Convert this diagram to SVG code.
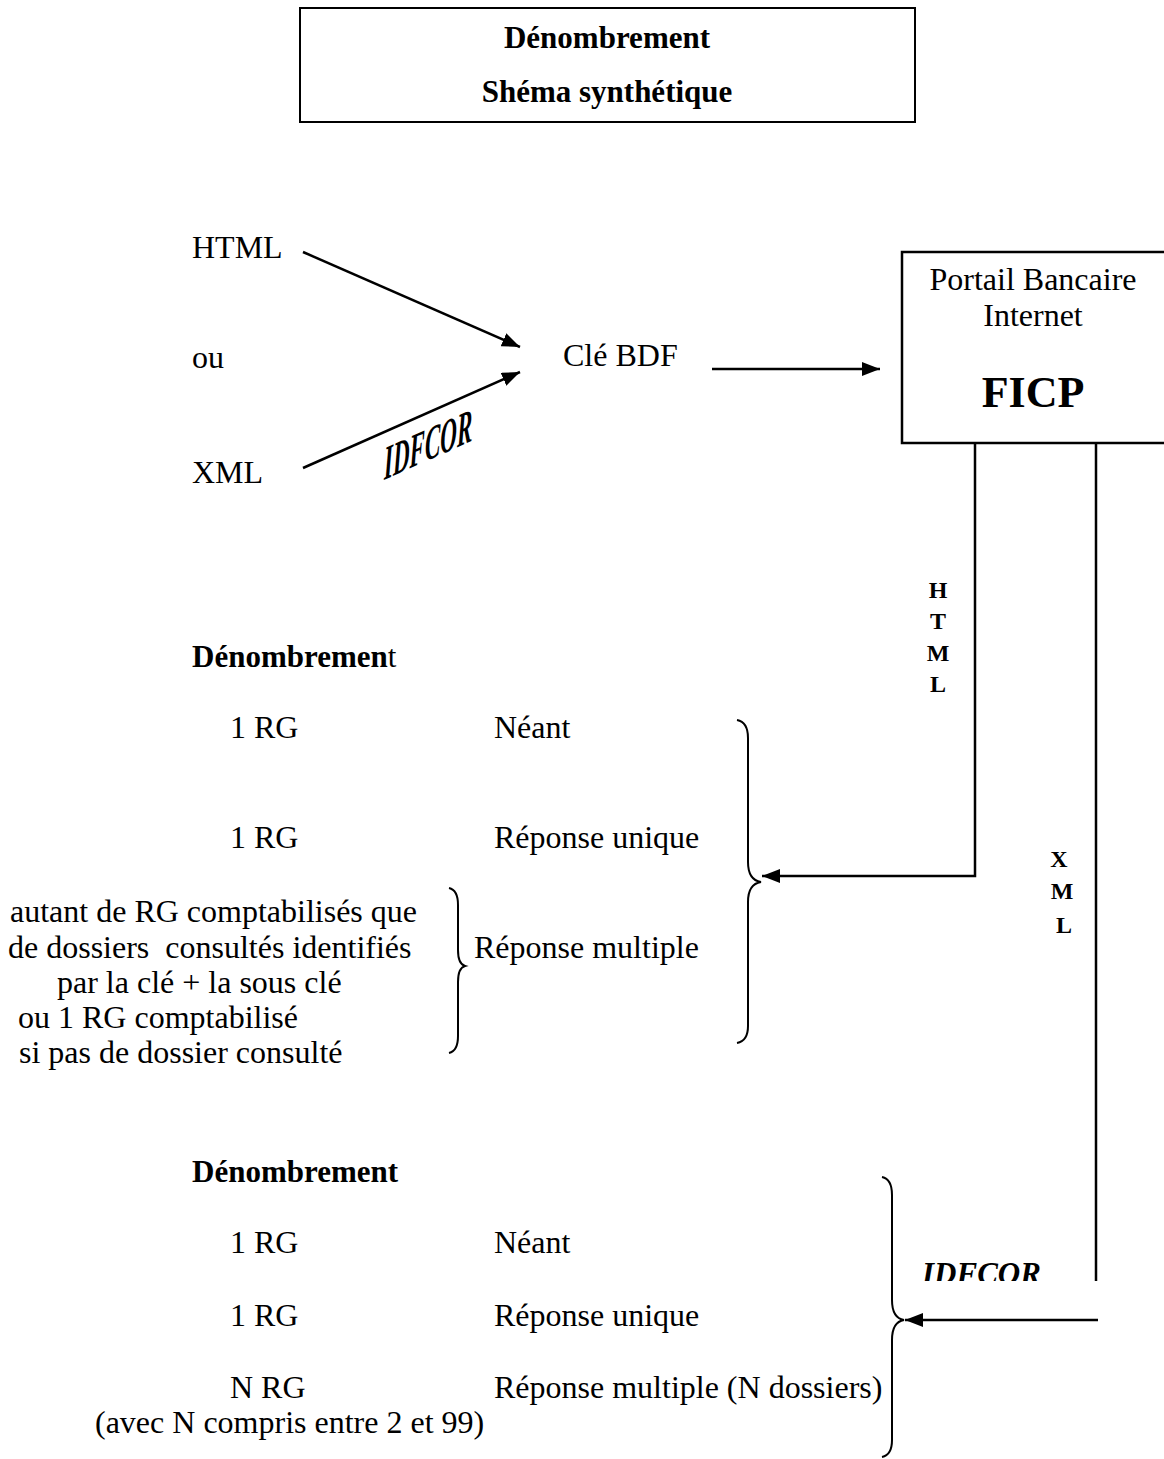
<svg xmlns="http://www.w3.org/2000/svg" width="1164" height="1459" viewBox="0 0 1164 1459">
<style>
text{font-family:"Liberation Serif","Times New Roman",serif;fill:#000}
.t{font-size:32px}
.b{font-size:31px;font-weight:bold}
.v{font-size:24px;font-weight:bold;text-anchor:middle}
.ln{stroke:#000;stroke-width:2.5;fill:none}
.br{stroke:#000;stroke-width:2;fill:none}
</style>
<defs>
<marker id="ah2" viewBox="0 0 18 14" refX="18" refY="7" markerWidth="18" markerHeight="14" orient="auto" markerUnits="userSpaceOnUse">
<path d="M0,0 L18,7 L0,14 Z" fill="#000"/>
</marker>
<clipPath id="clipIdf"><rect x="900" y="1240" width="200" height="41"/></clipPath>
</defs>
<rect width="1164" height="1459" fill="#fff"/>

<g id="title">
<rect x="300" y="8" width="615" height="114" fill="none" stroke="#000" stroke-width="2"/>
<text class="b" x="607" y="48" text-anchor="middle">Dénombrement</text>
<text class="b" x="607" y="102" text-anchor="middle">Shéma synthétique</text>
</g>

<g id="html-in"><text class="t" x="192" y="258">HTML</text></g>
<g id="ou"><text class="t" x="192" y="368">ou</text></g>
<g id="xml-in"><text class="t" x="192" y="483">XML</text></g>
<g id="cle"><text class="t" x="563" y="366">Clé BDF</text></g>

<g id="ficp">
<rect x="902" y="252" width="270" height="191" fill="#fff" stroke="#000" stroke-width="2.5"/>
<text class="t" x="1033" y="290" text-anchor="middle">Portail Bancaire</text>
<text class="t" x="1033" y="326" text-anchor="middle">Internet</text>
<text x="1033" y="407" text-anchor="middle" style="font-size:44px;font-weight:bold">FICP</text>
</g>

<g id="connectors">
<line class="ln" x1="303" y1="252" x2="520" y2="347" marker-end="url(#ah2)"/>
<line class="ln" x1="303" y1="468" x2="520" y2="372" marker-end="url(#ah2)"/>
<line class="ln" x1="712" y1="369" x2="880" y2="369" marker-end="url(#ah2)"/>
<polyline class="ln" points="975,443 975,876 762,876" marker-end="url(#ah2)"/>
<line class="ln" x1="1096" y1="443" x2="1096" y2="1281"/>
<line class="ln" x1="1098" y1="1320" x2="905" y2="1320" marker-end="url(#ah2)"/>
</g>

<g id="idfcor-label">
<text transform="translate(384,480) skewY(-24) scale(0.48,1)" style="font-size:48px;font-weight:bold;font-style:italic">IDFCOR</text>
</g>

<g id="html-vert">
<text class="v" x="938" y="598">H</text>
<text class="v" x="938" y="629">T</text>
<text class="v" x="938" y="661">M</text>
<text class="v" x="938" y="692">L</text>
</g>
<g id="xml-vert">
<text class="v" x="1059" y="867">X</text>
<text class="v" x="1062" y="899">M</text>
<text class="v" x="1064" y="933">L</text>
</g>

<g id="section1">
<text class="b" x="192" y="667">Dénombremen<tspan style="font-weight:normal">t</tspan></text>
<text class="t" x="230" y="738">1 RG</text>
<text class="t" x="494" y="738">Néant</text>
<text class="t" x="230" y="848">1 RG</text>
<text class="t" x="494" y="848">Réponse unique</text>
<text class="t" x="10" y="922">autant de RG comptabilisés que</text>
<text class="t" x="8" y="958" xml:space="preserve">de dossiers  consultés identifiés</text>
<text class="t" x="57" y="993">par la clé + la sous clé</text>
<text class="t" x="18" y="1028">ou 1 RG comptabilisé</text>
<text class="t" x="19" y="1063">si pas de dossier consulté</text>
<text class="t" x="474" y="958">Réponse multiple</text>
<path class="br" d="M449,888 Q458,890 458,905 L458,950 Q458,964 465,966 Q458,968 458,982 L458,1036 Q458,1051 449,1053"/>
<path class="br" d="M737,720 Q748,722 748,738 L748,862 Q748,880 761,882 Q748,884 748,902 L748,1026 Q748,1041 737,1043"/>
</g>

<g id="section2">
<text class="b" x="192" y="1182">Dénombrement</text>
<text class="t" x="230" y="1253">1 RG</text>
<text class="t" x="494" y="1253">Néant</text>
<text class="t" x="230" y="1326">1 RG</text>
<text class="t" x="494" y="1326">Réponse unique</text>
<text class="t" x="230" y="1398">N RG</text>
<text class="t" x="494" y="1398">Réponse multiple (N dossiers)</text>
<text class="t" x="95" y="1433">(avec N compris entre 2 et 99)</text>
<path class="br" d="M882,1177 Q892,1179 892,1195 L892,1300 Q892,1318 904,1320 Q892,1322 892,1340 L892,1440 Q892,1455 882,1457"/>
<g clip-path="url(#clipIdf)">
<text x="922" y="1284" style="font-size:31px;font-weight:bold;font-style:italic">IDFCOR</text>
</g>
</g>
</svg>
